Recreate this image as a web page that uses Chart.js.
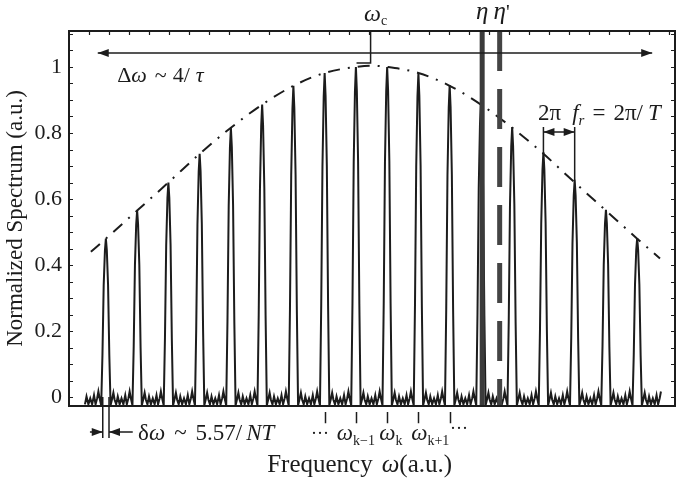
<!DOCTYPE html>
<html lang="en">
<head>
    <meta charset="UTF-8">
    <title>Frequency comb spectrum</title>
    <script src="https://cdn.jsdelivr.net/npm/chart.js"></script>
    <style>
        body { margin: 0; background: #fff; }
        canvas { display: block; }
    </style>
</head>
<body>
    <canvas id="combChart" width="684" height="480"></canvas>

    <script>
        // comb lines: position (in units of the comb spacing) and normalized height
        let peakPos = [0, 1, 2, 3, 4, 5, 6, 7, 8, 9, 10, 11, 12, 13, 14, 15, 16, 17];
        let peakHeights = [0.48, 0.565, 0.65, 0.737, 0.816, 0.886, 0.943, 0.982, 1.0,
                           1.0, 0.982, 0.945, 0.89, 0.818, 0.742, 0.658, 0.567, 0.482];

        // shape of one comb line: offset from its centre, fraction of its height
        let lineOffsets = [-0.15, -0.11, -0.07, -0.03, 0, 0.03, 0.07, 0.11, 0.15];
        let lineShape   = [0, 0.3, 0.72, 0.93, 1, 0.93, 0.72, 0.3, 0];
        let floorLevel = -0.025;

        // small side lobes between two comb lines: offset after a line, level
        let lobeOffsets = [0.2, 0.24, 0.28, 0.33, 0.38, 0.44, 0.5, 0.56, 0.62, 0.67, 0.72, 0.76, 0.8];
        let lobeLevels  = [-0.005, 0.013, -0.008, -0.022, 0.002, -0.022, -0.004, -0.022, 0.006, -0.022, -0.004, 0.017, -0.004];

        // dash-dot envelope
        let envPos    = [-0.48, 0, 1, 2, 3, 4, 5, 6, 7, 8, 8.5, 9, 10, 11, 12, 13, 14, 15, 16, 17, 17.73];
        let envLevels = [0.44, 0.48, 0.565, 0.65, 0.737, 0.816, 0.886, 0.943, 0.982, 1.0, 1.004,
                         1.0, 0.982, 0.943, 0.886, 0.816, 0.737, 0.65, 0.565, 0.48, 0.42];

        // markers
        let etaPos = 12.04;
        let etaPrimePos = 12.6;
        let omegaCPos = 8.47;
        let kTicks = [7, 8, 9, 10, 11];

        let xMin = -1.18, xMax = 18.21;
        let yMin = -0.027, yMax = 1.109;

        const SERIF = '"Liberation Serif", "DejaVu Serif", serif';
        const INK = '#1c1c1c';

        // build the spectrum trace from the arrays above
        let spectrum = [];
        lobeOffsets.forEach((d, j) => {
            if (d - 1 > -0.7) spectrum.push({ x: d - 1, y: lobeLevels[j] });
        });
        peakPos.forEach((p, i) => {
            lineOffsets.forEach((d, j) => {
                spectrum.push({ x: p + d, y: floorLevel + lineShape[j] * (peakHeights[i] - floorLevel) });
            });
            lobeOffsets.forEach((d, j) => {
                if (i < peakPos.length - 1 || d < 0.78) spectrum.push({ x: p + d, y: lobeLevels[j] });
            });
        });
        let envelope = envPos.map((p, i) => ({ x: p, y: envLevels[i] }));

        // draw a run of text pieces: [text, font, dy, extra gap after]
        function rich(c, parts, x, y, align) {
            let w = 0;
            parts.forEach(p => { c.font = p[1]; w += c.measureText(p[0]).width + (p[3] || 0); });
            let cx = align === 'center' ? x - w / 2 : x;
            parts.forEach(p => {
                c.font = p[1];
                c.fillText(p[0], cx, y + (p[2] || 0));
                cx += c.measureText(p[0]).width + (p[3] || 0);
            });
        }

        function arrowHead(c, x, y, dir) {
            c.beginPath();
            c.moveTo(x, y);
            c.lineTo(x - dir * 11, y - 4);
            c.lineTo(x - dir * 11, y + 4);
            c.closePath();
            c.fill();
        }

        const R = s => s + 'px ' + SERIF;
        const I = s => 'italic ' + s + 'px ' + SERIF;

        const decorations = {
            id: 'decorations',
            afterDraw(chart) {
                const c = chart.ctx;
                const a = chart.chartArea;
                const X = v => chart.scales.x.getPixelForValue(v);
                const Y = v => chart.scales.y.getPixelForValue(v);
                c.save();
                c.strokeStyle = INK;
                c.fillStyle = INK;

                // frame
                c.lineWidth = 2;
                c.strokeRect(a.left, a.top, a.right - a.left, a.bottom - a.top);

                // inward ticks, left and right
                c.lineWidth = 1.2;
                c.beginPath();
                for (let k = 0; k <= 22; k++) {
                    const py = Math.round(Y(k * 0.05)) + 0.5;
                    c.moveTo(a.left, py); c.lineTo(a.left + 4, py);
                    c.moveTo(a.right, py); c.lineTo(a.right - 4, py);
                }
                // inward ticks on top
                for (let u = xMin + 0.64; u < xMax; u += 0.64) {
                    const px = Math.round(X(u)) + 0.5;
                    c.moveTo(px, a.top); c.lineTo(px, a.top + 4);
                }
                c.stroke();

                // delta omega span arrow
                c.lineWidth = 1.5;
                const yA = Y(1.042);
                c.beginPath();
                c.moveTo(X(-0.26), yA); c.lineTo(X(17.48), yA);
                c.stroke();
                arrowHead(c, X(-0.26), yA, -1);
                arrowHead(c, X(17.48), yA, 1);

                // comb spacing arrow
                const yR = Y(0.803);
                c.beginPath();
                c.moveTo(X(14), Y(0.818)); c.lineTo(X(14), Y(peakHeights[14]));
                c.moveTo(X(15), Y(0.818)); c.lineTo(X(15), Y(peakHeights[15]));
                c.moveTo(X(14), yR); c.lineTo(X(15), yR);
                c.stroke();
                arrowHead(c, X(14), yR, -1);
                arrowHead(c, X(15), yR, 1);

                // line width marker under the first comb line
                const yD = Y(-0.106);
                c.beginPath();
                c.moveTo(X(-0.1), Y(0)); c.lineTo(X(-0.1), Y(-0.124));
                c.moveTo(X(0.1), Y(0)); c.lineTo(X(0.1), Y(-0.124));
                c.moveTo(X(-0.51), yD); c.lineTo(X(-0.1), yD);
                c.moveTo(X(0.1), yD); c.lineTo(X(0.86), yD);
                c.stroke();
                arrowHead(c, X(-0.1), yD, 1);
                arrowHead(c, X(0.1), yD, -1);

                // omega_k ticks below the axis
                c.beginPath();
                kTicks.forEach(k => {
                    c.moveTo(Math.round(X(k)) + 0.5, Y(-0.045));
                    c.lineTo(Math.round(X(k)) + 0.5, Y(-0.079));
                });
                c.stroke();

                // texts
                c.textBaseline = 'alphabetic';
                rich(c, [['ω', I(24)], ['c', R(14), 4]], X(omegaCPos) + 5, Y(1.138), 'center');
                rich(c, [['η', I(25)]], X(etaPos), Y(1.146), 'center');
                rich(c, [['η', I(25)], ["'", R(21)]], X(etaPrimePos) + 2, Y(1.146), 'center');
                rich(c, [['Δ', R(22)], ['ω', I(22), 0, 8], ['~', R(22), 0, 6], ['4/', R(22), 0, 6], ['τ', I(22)]],
                     X(0.36), Y(0.955));
                rich(c, [['2π', R(23), 0, 11], ['f', I(23)], ['r', I(15), 5, 8], ['=', R(23), 0, 8], ['2π/', R(23), 0, 5], ['T', I(23)]],
                     X(13.83), Y(0.84));
                rich(c, [['δ', R(23)], ['ω', I(23), 0, 9], ['~', R(23), 0, 9], ['5.57/', R(23), 0, 4], ['NT', I(23)]],
                     X(1.03), Y(-0.13));

                rich(c, [['···', R(18)]], X(6.85), Y(-0.127), 'center');
                rich(c, [['ω', I(23)], ['k−1', R(14), 5]], X(8.0), Y(-0.13), 'center');
                rich(c, [['ω', I(23)], ['k', R(14), 5]], X(9.12), Y(-0.13), 'center');
                rich(c, [['ω', I(23)], ['k+1', R(14), 5]], X(10.38), Y(-0.13), 'center');
                rich(c, [['···', R(18)]], X(11.3), Y(-0.112), 'center');

                rich(c, [['Frequency', R(25), 0, 9], ['ω', I(25)], ['(a.u.)', R(25)]], X(8.12), Y(-0.227), 'center');
                c.restore();
            }
        };

        let chart = new Chart(document.getElementById('combChart').getContext('2d'), {
            type: 'scatter',
            data: {
                datasets: [
                    {
                        label: 'η',
                        data: [{ x: etaPos, y: yMax }, { x: etaPos, y: yMin }],
                        borderColor: '#3b3b3b', borderWidth: 5
                    },
                    {
                        label: "η'",
                        data: [{ x: etaPrimePos, y: yMax }, { x: etaPrimePos, y: yMin }],
                        borderColor: '#444', borderWidth: 5, borderDash: [40, 18]
                    },
                    {
                        label: 'ωc',
                        data: [{ x: omegaCPos, y: yMax }, { x: omegaCPos, y: 1.012 }, { x: 8.02, y: 1.012 }],
                        borderColor: INK, borderWidth: 1.5
                    },
                    {
                        label: 'spectrum',
                        data: spectrum,
                        borderColor: INK, borderWidth: 2
                    },
                    {
                        label: 'envelope',
                        data: envelope,
                        borderColor: INK, borderWidth: 2,
                        borderDash: [12, 8, 2, 8],
                        cubicInterpolationMode: 'monotone'
                    }
                ]
            },
            options: {
                responsive: false,
                animation: false,
                showLine: true,
                elements: { point: { radius: 0 }, line: { tension: 0 } },
                layout: { padding: { left: 0, right: 9, top: 31, bottom: 74 } },
                plugins: { legend: { display: false }, tooltip: { enabled: false } },
                scales: {
                    x: { type: 'linear', min: xMin, max: xMax, display: false },
                    y: {
                        type: 'linear', min: yMin, max: yMax,
                        afterFit: s => { s.width = 69; },
                        grid: { display: false, drawTicks: false },
                        border: { display: false },
                        ticks: {
                            stepSize: 0.2, includeBounds: false, padding: 7,
                            color: INK, font: { family: SERIF, size: 22 },
                            callback: v => String(Math.round(v * 10) / 10)
                        },
                        title: {
                            display: true, text: 'Normalized Spectrum (a.u.)',
                            color: INK, font: { family: SERIF, size: 23 },
                            padding: { top: 2, bottom: 0 }
                        }
                    }
                }
            },
            plugins: [decorations]
        });
    </script>
</body>
</html>
